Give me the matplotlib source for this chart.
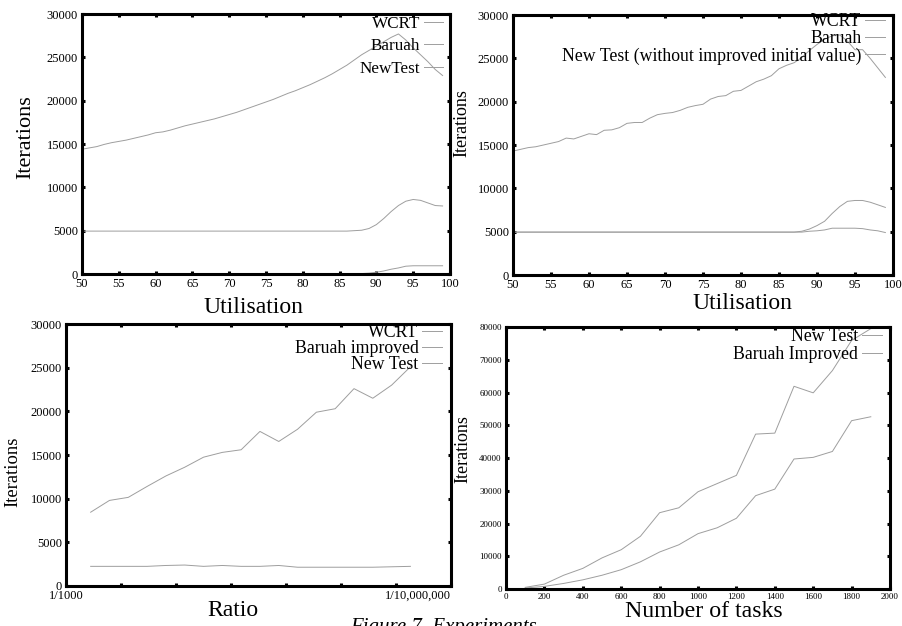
import matplotlib
matplotlib.use("Agg")
import matplotlib.pyplot as plt
import numpy as np

plt.rcParams['font.family'] = ['Liberation Serif', 'DejaVu Serif']

# ---- data ----
# top left: utilisation
util1 = [50, 51, 52, 53, 54, 55, 56, 57, 58, 59, 60, 61, 62, 63, 64, 65, 66, 67, 68, 69,
         70, 71, 72, 73, 74, 75, 76, 77, 78, 79, 80, 81, 82, 83, 84, 85, 86, 87, 88, 89,
         90, 91, 92, 93, 94, 95, 96, 97, 98, 99]
wcrt1 = [14400, 14550, 14700, 14950, 15150, 15300, 15450, 15650, 15850, 16050,
         16300, 16400, 16600, 16850, 17100, 17300, 17500, 17700, 17900, 18150,
         18400, 18650, 18950, 19250, 19550, 19850, 20150, 20500, 20850, 21150,
         21500, 21850, 22250, 22650, 23100, 23600, 24100, 24700, 25300, 25800,
         26300, 26800, 27300, 27700, 27000, 26100, 25300, 24500, 23600, 22900]
baruah1_x = [50, 86, 87, 88, 89, 90, 91, 92, 93, 94, 95, 96, 97, 98, 99]
baruah1 = [4950, 4950, 5000, 5050, 5250, 5700, 6400, 7200, 7900, 8400, 8600, 8500, 8200, 7900, 7850]
newtest1_x = [50, 87, 88, 89, 90, 91, 92, 93, 94, 95, 96, 97, 98, 99]
newtest1 = [20, 20, 50, 100, 200, 350, 550, 700, 900, 950, 950, 950, 950, 950]

# top right: utilisation, new test without improved initial value
util2 = util1
wcrt2 = [14300, 14500, 14700, 14800, 15000, 15200, 15400, 15800, 15700, 16000,
         16300, 16200, 16700, 16750, 17000, 17500, 17600, 17600, 18100, 18500,
         18650, 18750, 19000, 19350, 19550, 19700, 20300, 20600, 20700, 21200,
         21300, 21800, 22300, 22600, 23000, 23800, 24200, 24500, 25100, 25900,
         26600, 27200, 27600, 27700, 27000, 26000, 26000, 25000, 23900, 22800]
baruah2_x = [50, 87, 88, 89, 90, 91, 92, 93, 94, 95, 96, 97, 98, 99]
baruah2 = [4950, 4950, 5050, 5300, 5700, 6200, 7100, 7900, 8500, 8600, 8600, 8400, 8100, 7800]
newtest2_x = [50, 88, 89, 90, 91, 92, 93, 94, 95, 96, 97, 98, 99]
newtest2 = [4950, 4950, 5050, 5100, 5200, 5400, 5400, 5400, 5400, 5350, 5200, 5100, 4900]

# bottom left: ratio (18 ratios between 1/1000 and 1/10,000,000)
ratio_idx = [1, 2, 3, 4, 5, 6, 7, 8, 9, 10, 11, 12, 13, 14, 15, 16, 17, 18]
wcrt3 = [8450, 9800, 10150, 11400, 12600, 13600, 14750, 15300, 15600,
         17700, 16550, 17950, 19900, 20300, 22600, 21500, 23000, 25100]
baruah3 = [2250, 2250, 2250, 2250, 2350, 2400, 2250, 2350, 2250,
           2250, 2350, 2150, 2150, 2150, 2150, 2150, 2200, 2250]
newtest3 = [30, 30, 30, 30, 30, 30, 30, 30, 30, 30, 30, 30, 30, 30, 30, 30, 30, 30]
ratio_labels = ['1/1000', '', '', '', '', '', '', '1/10,000,000']

# bottom right: number of tasks
tasks = [100, 200, 300, 400, 500, 600, 700, 800, 900, 1000,
         1100, 1200, 1300, 1400, 1500, 1600, 1700, 1800, 1900]
newtest4 = [500, 1500, 4200, 6300, 9500, 12000, 16100, 23300, 24800, 29700,
            32200, 34700, 47300, 47600, 61900, 59900, 66700, 75900, 79500]
baruah4 = [300, 800, 1700, 2800, 4200, 5900, 8300, 11300, 13500, 16900,
           18700, 21600, 28500, 30500, 39700, 40200, 42000, 51400, 52600]

LINE = dict(color='0.62', lw=0.7)


def style_axes(ax, ticksize):
    for s in ax.spines.values():
        s.set_linewidth(2.2)
    ax.tick_params(which='both', direction='in', length=2.5, width=2.2,
                   top=True, right=True, labelsize=ticksize, pad=3)


def add_legend(ax, x, y, spacing, size=12.8):
    leg = ax.legend(loc='upper right', bbox_to_anchor=(x, y), frameon=False,
                    markerfirst=False, fontsize=size, handlelength=1.13,
                    handletextpad=0.2, borderaxespad=0, borderpad=0,
                    labelspacing=spacing)
    leg.set_zorder(2)
    return leg


fig = plt.figure(figsize=(9.03, 6.26), dpi=100)

# top left
ax1 = fig.add_axes([0.0908, 0.5623, 0.4075, 0.4153])
ax1.plot(util1, wcrt1, label='WCRT', **LINE)
ax1.plot(baruah1_x, baruah1, label='Baruah', **LINE)
ax1.plot(newtest1_x, newtest1, label='NewTest', **LINE)
ax1.set_xlim(50, 100)
ax1.set_ylim(0, 30000)
ax1.set_xticks(np.arange(50, 101, 5))
ax1.set_yticks(np.arange(0, 30001, 5000))
style_axes(ax1, 9)
ax1.set_xlabel('Utilisation', fontsize=17)
ax1.xaxis.set_label_coords(0.467, -0.088)
ax1.set_ylabel('Iterations', fontsize=16)
ax1.yaxis.set_label_coords(-0.128, 0.527)
add_legend(ax1, 0.981, 0.992, 0.37, size=12.3)

# top right
ax2 = fig.add_axes([0.5681, 0.5607, 0.4208, 0.4153])
ax2.plot(util2, wcrt2, label='WCRT', **LINE)
ax2.plot(baruah2_x, baruah2, label='Baruah', **LINE)
ax2.plot(newtest2_x, newtest2, label='New Test (without improved initial value)', **LINE)
ax2.set_xlim(50, 100)
ax2.set_ylim(0, 30000)
ax2.set_xticks(np.arange(50, 101, 5))
ax2.set_yticks(np.arange(0, 30001, 5000))
style_axes(ax2, 9)
ax2.set_xlabel('Utilisation', fontsize=17)
ax2.xaxis.set_label_coords(0.605, -0.069)
ax2.set_ylabel('Iterations', fontsize=13)
ax2.yaxis.set_label_coords(-0.113, 0.585)
add_legend(ax2, 0.979, 1.007, 0.0)

# bottom left
ax3 = fig.add_axes([0.0731, 0.0639, 0.4264, 0.4185])
ax3.plot(ratio_idx, wcrt3, label='WCRT', **LINE)
ax3.plot(ratio_idx, baruah3, label='Baruah improved', **LINE)
ax3.plot(ratio_idx, newtest3, label='New Test', **LINE)
ax3.set_xlim(-0.31, 20.16)
ax3.set_ylim(0, 30000)
ax3.set_xticks(np.linspace(-0.31, 20.16, 8))
ax3.set_xticklabels(ratio_labels)
ax3.set_yticks(np.arange(0, 30001, 5000))
style_axes(ax3, 9)
ax3.get_xticklabels()[-1].set_horizontalalignment('right')
ax3.set_xlabel('Ratio', fontsize=17)
ax3.xaxis.set_label_coords(0.434, -0.053)
ax3.set_ylabel('Iterations', fontsize=13.4)
ax3.yaxis.set_label_coords(-0.117, 0.435)
add_legend(ax3, 0.977, 1.0, -0.05)

# bottom right
ax4 = fig.add_axes([0.5604, 0.0591, 0.4252, 0.4185])
ax4.plot(tasks, newtest4, label='New Test', **LINE)
ax4.plot(tasks, baruah4, label='Baruah Improved', **LINE)
ax4.set_xlim(0, 2000)
ax4.set_ylim(0, 80000)
ax4.set_xticks(np.arange(0, 2001, 200))
ax4.set_yticks(np.arange(0, 80001, 10000))
style_axes(ax4, 6.5)
ax4.set_xlabel('Number of tasks', fontsize=17.2)
ax4.xaxis.set_label_coords(0.516, -0.046)
ax4.set_ylabel('Iterations', fontsize=13)
ax4.yaxis.set_label_coords(-0.091, 0.534)
add_legend(ax4, 0.979, 0.997, 0.07)

fig.text(350 / 903, 1 - 618 / 626, 'Figure 7. Experiments', fontsize=15,
         style='italic', ha='left', va='top')

plt.savefig('out.png', dpi=100)
